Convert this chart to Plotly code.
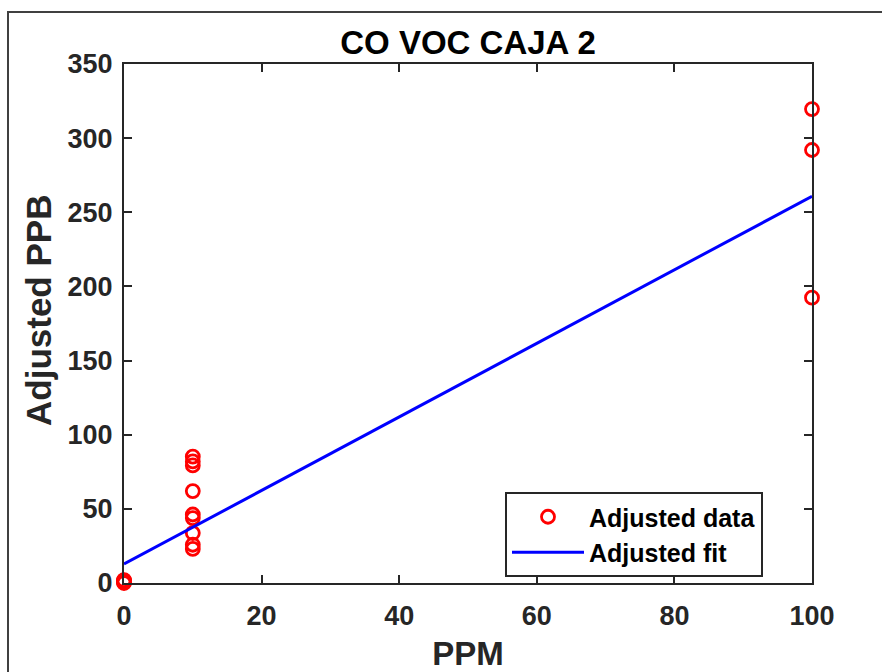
import plotly.graph_objects as go

# Data
data_x = [0, 0, 0, 0, 0,
          10, 10, 10, 10, 10, 10, 10, 10, 10,
          100, 100, 100]
data_y = [0.0, 0.5, 1.0, 1.6, 2.0,
          85.2, 82.0, 79.3, 62.0, 46.2, 43.8, 33.7, 25.8, 23.0,
          319.6, 292.0, 192.4]
fit_x = [0, 100]
fit_y = [12.8, 260.8]

title_text = "CO VOC CAJA 2"
x_label = "PPM"
y_label = "Adjusted PPB"
x_ticks = [0, 20, 40, 60, 80, 100]
y_ticks = [0, 50, 100, 150, 200, 250, 300, 350]

W, H = 882, 672
L, R, T, B = 124, 70, 64, 89
pw, ph = W - L - R, H - T - B

FONT = "Liberation Sans, Arial, Helvetica, sans-serif"
AXC = "#262626"

fig = go.Figure()
fig.add_trace(go.Scatter(
    x=data_x, y=data_y, mode="markers", name="Adjusted data", cliponaxis=False,
    marker=dict(symbol="circle-open", size=13, color="#ff0000",
                line=dict(width=2.8, color="#ff0000")),
))
fig.add_trace(go.Scatter(
    x=fit_x, y=fit_y, mode="lines", name="Adjusted fit",
    line=dict(color="#0000ff", width=3),
))

axis_common = dict(
    showgrid=False, zeroline=False, showline=True, linecolor=AXC, linewidth=2,
    mirror="allticks", ticks="inside", ticklen=8, tickwidth=2, tickcolor=AXC,
    tickfont=dict(family=FONT, size=27, color=AXC, weight="bold"),
    automargin=False,
)

fig.update_layout(
    width=W, height=H,
    margin=dict(l=L, r=R, t=T, b=B, pad=0),
    paper_bgcolor="white", plot_bgcolor="white",
    showlegend=True,
    title=dict(text="<b>" + title_text + "</b>", x=0.5, xref="paper",
               y=1 - 42 / H, yref="container", xanchor="center", yanchor="middle",
               font=dict(family=FONT, size=33, color="#000000")),
    xaxis=dict(range=[0, 100], tickvals=x_ticks, ticklabelstandoff=8, **axis_common,
               title=dict(text="<b>" + x_label + "</b>", standoff=17,
                          font=dict(family=FONT, size=33, color=AXC))),
    yaxis=dict(range=[0, 350], tickvals=y_ticks, ticklabelstandoff=4, **axis_common),
    annotations=[dict(text="<b>" + y_label + "</b>", textangle=-90,
                      xref="paper", yref="paper",
                      x=(38 - L) / pw, y=(583 - 311) / ph,
                      xanchor="center", yanchor="middle", showarrow=False,
                      font=dict(family=FONT, size=35, color=AXC))],
    legend=dict(x=(505 - L) / pw, y=(583 - 492) / ph, xanchor="left", yanchor="top",
                bgcolor="white", bordercolor=AXC, borderwidth=2,
                font=dict(family=FONT, size=25, color="#000000", weight="bold"),
                itemwidth=72, tracegroupgap=0),
    shapes=[dict(type="rect", xref="paper", yref="paper",
                 x0=(8 - L) / pw, x1=1.5, y0=-0.5, y1=1 + (T - 12) / ph,
                 line=dict(color="#404040", width=2), layer="below")],
)

fig.write_html("out.html")
